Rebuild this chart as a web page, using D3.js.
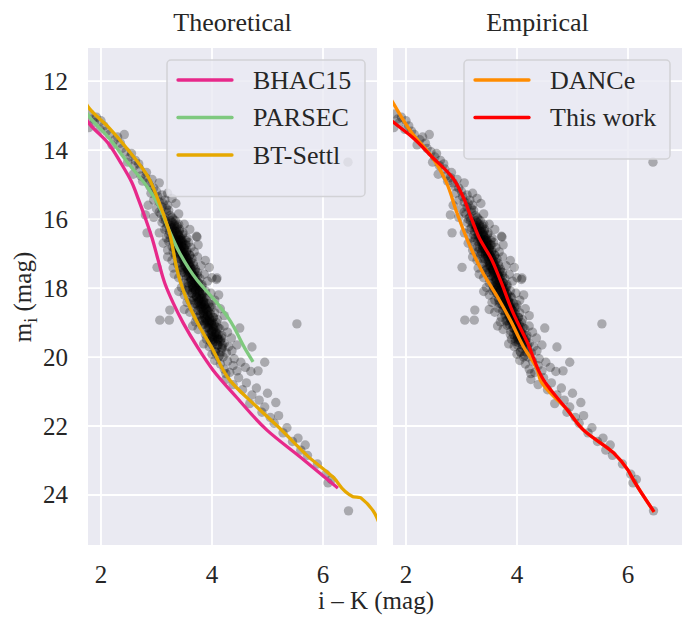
<!DOCTYPE html>
<html>
<head>
<meta charset="utf-8">
<script src="https://cdn.jsdelivr.net/npm/d3@7"></script>
<style>
  body { margin: 0; background: #fff; }
</style>
</head>
<body>
<div id="chart"></div>
<script>
const width = 686;
const height = 617;

// axis ticks
const xTicks = [2, 4, 6];
const yTicks = [12, 14, 16, 18, 20, 22, 24];

// isochrones, [i-K, m_i]
const bhac15 = [[1.70,13.0],[1.77,13.19],[2.13,13.80],[2.36,14.38],[2.55,14.92],[2.68,15.45],[2.80,15.98],[2.92,16.55],[3.03,17.19],[3.15,17.86],[3.30,18.43],[3.48,19.01],[3.75,19.74],[4.02,20.38],[4.45,21.18],[4.99,22.12],[5.59,22.90],[6.27,23.80]];
const parsec = [[1.70,12.8],[1.77,12.99],[2.13,13.62],[2.49,14.38],[2.85,15.10],[3.08,15.74],[3.21,16.26],[3.42,16.99],[3.73,17.77],[4.09,18.43],[4.32,18.93],[4.59,19.74],[4.74,20.14]];
const btSettl = [[1.70,12.55],[1.77,12.75],[2.13,13.33],[2.49,14.0],[2.85,14.78],[3.03,15.45],[3.21,16.26],[3.42,17.77],[3.60,18.55],[3.78,19.13],[4.0,19.74],[4.32,20.67],[4.81,21.45],[5.23,22.08],[5.73,22.88],[6.18,23.48],[6.54,24.05],[6.68,24.08],[7.05,25.0]];
const dance = [[1.70,12.45],[1.77,12.64],[2.11,13.51],[2.47,14.20],[2.71,14.87],[2.92,15.83],[3.16,16.81],[3.39,17.57],[3.65,18.26],[3.88,18.93],[4.12,19.71],[4.37,20.38],[4.42,20.67],[4.91,21.54],[5.20,22.12],[5.74,22.78],[6.0,23.28],[6.10,23.57],[6.47,24.49]];
const thisWork = [[1.70,13.1],[1.77,13.19],[2.11,13.62],[2.47,14.20],[2.83,14.78],[3.03,15.36],[3.19,16.03],[3.34,16.61],[3.52,17.10],[3.70,17.77],[3.93,18.72],[4.19,19.59],[4.48,20.67],[4.91,21.54],[5.20,22.12],[5.74,22.78],[6.0,23.28],[6.10,23.57],[6.47,24.49]];

// cluster members, [i-K, m_i]
const stars = [
  [1.80,12.95],[1.85,13.10],[1.92,13.05],[1.78,13.35],[1.98,13.40],[2.05,13.30],[2.15,13.55],[2.30,13.62],[2.42,13.55],[2.20,13.85],
  [2.38,13.95],[2.55,14.10],[2.48,14.35],[2.62,14.30],[2.70,14.55],[2.58,14.70],[2.82,14.65],[2.75,14.90],[2.92,14.85],[2.88,15.05],[3.05,14.95],
  [1.88,13.20],[2.00,13.15],[2.10,13.45],[2.25,13.70],[2.35,13.80],[2.45,14.05],[2.52,14.20],[2.60,14.45],[2.68,14.40],[2.72,14.75],
  [2.80,14.80],[2.85,14.95],[2.95,15.10],[3.02,15.35],[3.12,15.55],[3.18,15.70],[3.22,15.75],[3.28,15.95],[3.15,15.95],[3.05,15.80],
  [2.90,15.25],[3.00,15.20],[3.10,15.30],[3.20,15.25],[2.95,15.45],[3.05,15.50],[3.15,15.45],[3.28,15.40],[2.85,15.60],[3.00,15.70],
  [3.10,15.65],[3.20,15.60],[3.35,15.55],[3.08,15.85],[3.18,15.80],[3.25,15.90],[3.40,15.85],[2.95,15.95],[3.12,16.00],[3.30,16.00],
  [3.10,16.10],[3.20,16.15],[3.28,16.10],[3.38,16.20],[3.50,16.15],[3.15,16.30],[3.25,16.25],[3.33,16.35],[3.42,16.30],[3.60,16.30],
  [3.05,16.40],[3.22,16.45],[3.30,16.50],[3.40,16.45],[3.48,16.40],[3.72,16.50],[3.18,16.55],[3.36,16.60],[3.45,16.58],[3.55,16.55],
  [3.12,16.70],[3.22,16.65],[3.28,16.80],[3.32,16.72],[3.36,16.68],[3.38,16.85],[3.40,16.75],[3.42,16.90],[3.44,16.62],[3.45,16.80],
  [3.47,16.95],[3.48,16.70],[3.50,16.85],[3.52,16.75],[3.55,16.92],[3.58,16.68],[3.62,16.82],[3.68,16.95],[3.75,16.75],[3.30,16.95],
  [3.35,17.00],[3.40,16.60],[3.46,17.00],[3.53,16.62],[3.20,16.90],
  [3.20,17.10],[3.28,17.20],[3.34,17.05],[3.38,17.30],[3.42,17.15],[3.45,17.40],[3.48,17.08],[3.50,17.25],[3.52,17.35],[3.54,17.12],
  [3.56,17.45],[3.57,17.20],[3.59,17.30],[3.60,17.05],[3.62,17.40],[3.64,17.15],[3.66,17.28],[3.70,17.45],[3.74,17.10],[3.80,17.35],
  [3.88,17.20],[3.44,17.48],[3.50,17.02],[3.58,17.50],[3.30,17.42],[3.95,17.40],
  [3.32,17.60],[3.40,17.70],[3.46,17.55],[3.50,17.85],[3.54,17.65],[3.57,17.95],[3.60,17.58],[3.62,17.75],[3.64,17.90],[3.66,17.62],
  [3.68,17.80],[3.70,17.68],[3.72,17.95],[3.74,17.55],[3.76,17.85],[3.78,17.72],[3.82,17.90],[3.86,17.60],[3.92,17.80],[4.00,17.70],
  [4.08,17.75],[3.58,18.00],[3.65,18.00],[3.70,17.52],[3.45,17.98],[3.80,18.00],
  [3.40,18.10],[3.50,18.20],[3.56,18.08],[3.60,18.35],[3.64,18.15],[3.68,18.45],[3.70,18.05],[3.72,18.25],[3.75,18.38],[3.77,18.12],
  [3.79,18.30],[3.81,18.48],[3.83,18.18],[3.85,18.40],[3.88,18.08],[3.90,18.28],[3.94,18.45],[3.98,18.15],[4.05,18.35],[4.12,18.20],
  [3.66,18.28],[3.74,18.50],[3.86,18.50],[3.55,18.42],[4.00,18.48],
  [3.50,18.62],[3.60,18.70],[3.66,18.58],[3.72,18.85],[3.76,18.65],[3.80,18.95],[3.83,18.55],[3.85,18.75],[3.88,18.90],[3.90,18.62],
  [3.92,18.80],[3.94,18.68],[3.96,18.95],[3.99,18.58],[4.02,18.85],[4.05,18.72],[4.10,18.92],[4.15,18.60],[4.22,18.80],[3.78,18.78],
  [3.86,19.00],[3.95,19.00],[3.70,18.98],[4.08,19.00],
  [3.65,19.10],[3.75,19.20],[3.82,19.08],[3.88,19.35],[3.92,19.15],[3.96,19.45],[3.99,19.05],[4.01,19.25],[4.04,19.40],[4.06,19.12],
  [4.08,19.30],[4.11,19.48],[4.14,19.18],[4.18,19.38],[4.22,19.10],[4.28,19.28],[4.35,19.45],[3.90,19.48],[4.00,19.50],[4.15,19.50],
  [3.85,19.62],[3.95,19.70],[4.02,19.58],[4.06,19.85],[4.10,19.65],[4.14,19.95],[4.18,19.72],[4.22,19.60],[4.26,19.88],[4.30,19.70],
  [4.36,19.82],[4.45,19.65],[4.12,20.00],[4.20,20.00],[4.00,19.92],
  [4.05,20.10],[4.15,20.20],[4.22,20.35],[4.28,20.12],[4.32,20.45],[4.38,20.25],[4.45,20.40],[4.52,20.15],[4.60,20.30],[4.25,20.48],
  [4.40,20.05],[4.70,20.42],
  [4.25,20.65],[4.38,20.80],[4.48,20.60],[4.55,20.95],[4.62,20.75],[4.72,21.10],[4.80,20.90],[4.68,21.35],[4.85,21.25],[4.95,21.45],
  [5.00,21.05],[5.15,21.32],
  [4.90,21.60],[5.05,21.75],[5.12,21.92],[5.20,21.70],[5.28,22.20],[5.35,22.05],[5.45,22.45],[5.55,22.35],[5.68,22.55],[5.72,22.85],
  [5.60,22.70],[5.90,23.10],[6.05,23.40],[6.09,23.65],[6.15,23.55],
  [6.45,14.35],[5.53,19.04],[6.46,24.46],[3.06,18.93],[3.23,18.93],[3.24,18.64],[3.01,17.40],[2.83,16.40],[2.80,15.88],[3.73,16.52],
  [4.09,17.71],[4.50,19.16],[4.72,19.71],[4.83,20.40],[4.95,20.15]
];

// densest part of the sequence
const coreStars = [
  [3.16,16.05],[3.26,16.05],[3.34,16.05],[3.23,16.15],[3.32,16.15],[3.40,16.15],[3.18,16.25],[3.28,16.25],[3.36,16.25],
  [3.23,16.35],[3.33,16.35],[3.41,16.35],[3.30,16.45],[3.39,16.45],[3.47,16.45],[3.25,16.55],[3.35,16.55],[3.43,16.55],
  [3.29,16.65],[3.39,16.65],[3.47,16.65],[3.37,16.75],[3.46,16.75],[3.54,16.75],[3.32,16.85],[3.42,16.85],[3.50,16.85],
  [3.36,16.95],[3.46,16.95],[3.54,16.95],[3.43,17.05],[3.52,17.05],[3.60,17.05],[3.39,17.15],[3.49,17.15],[3.57,17.15],
  [3.43,17.25],[3.53,17.25],[3.61,17.25],[3.50,17.35],[3.59,17.35],[3.67,17.35],[3.46,17.45],[3.56,17.45],[3.64,17.45],
  [3.50,17.55],[3.60,17.55],[3.68,17.55],[3.57,17.65],[3.66,17.65],[3.74,17.65],[3.53,17.75],[3.63,17.75],[3.71,17.75],
  [3.57,17.85],[3.67,17.85],[3.75,17.85],[3.65,17.95],[3.74,17.95],[3.82,17.95],[3.60,18.05],[3.70,18.05],[3.78,18.05],
  [3.64,18.15],[3.74,18.15],[3.82,18.15],[3.72,18.25],[3.81,18.25],[3.89,18.25],[3.67,18.35],[3.77,18.35],[3.85,18.35],
  [3.71,18.45],[3.81,18.45],[3.89,18.45],[3.79,18.55],[3.88,18.55],[3.96,18.55],[3.74,18.65],[3.84,18.65],[3.92,18.65],
  [3.79,18.75],[3.89,18.75],[3.97,18.75],[3.86,18.85],[3.95,18.85],[4.03,18.85],[3.82,18.95],[3.92,18.95],[4.00,18.95],
  [3.86,19.05],[3.96,19.05],[4.04,19.05],[3.94,19.15],[4.03,19.15],[4.11,19.15],[3.89,19.25],[3.99,19.25],[4.07,19.25],
  [3.94,19.35],[4.04,19.35],[4.12,19.35],[4.01,19.45],[4.10,19.45],[4.18,19.45],[3.97,19.55],[4.07,19.55],[4.15,19.55],
  [4.01,19.65],[4.11,19.65],[4.19,19.65],[4.09,19.75],[4.18,19.75],[4.06,19.85],[4.16,19.85]
];

// ridge of the sequence, where the stars pile up
const ridgeStars = [
  [3.26,16.2],[3.33,16.2],[3.28,16.3],[3.35,16.3],[3.30,16.4],[3.37,16.4],[3.33,16.5],[3.40,16.5],[3.34,16.6],[3.42,16.6],
  [3.38,16.7],[3.45,16.7],[3.39,16.8],[3.46,16.8],[3.42,16.9],[3.49,16.9],[3.43,17.0],[3.51,17.0],[3.47,17.1],[3.54,17.1],
  [3.48,17.2],[3.55,17.2],[3.51,17.3],[3.58,17.3],[3.53,17.4],[3.61,17.4],[3.56,17.5],[3.63,17.5],[3.57,17.6],[3.65,17.6],
  [3.61,17.7],[3.68,17.7],[3.62,17.8],[3.69,17.8],[3.65,17.9],[3.72,17.9],[3.67,18.0],[3.75,18.0],[3.70,18.1],[3.77,18.1],
  [3.71,18.2],[3.78,18.2],[3.75,18.3],[3.82,18.3],[3.76,18.4],[3.84,18.4],[3.79,18.5],[3.86,18.5],[3.81,18.6],[3.89,18.6],
  [3.84,18.7],[3.91,18.7],[3.86,18.8],[3.93,18.8],[3.89,18.9],[3.96,18.9],[3.91,19.0],[3.99,19.0],[3.94,19.1],[4.01,19.1],
  [3.96,19.2],[4.03,19.2],[3.99,19.3],[4.06,19.3],[4.01,19.4],[4.09,19.4],[4.04,19.5],[4.11,19.5]
];

const panelW = 289;
const plotTop = 48, plotBottom = 545;
const serif = "'Liberation Serif', 'DejaVu Serif', serif";

const x = d3.scaleLinear().domain([1.766, 6.973]).range([0, panelW]);
const y = d3.scaleLinear().domain([11.04, 25.45]).range([plotTop, plotBottom]);

const panels = [
  { title: "Theoretical", left: 88, yLabels: true,
    series: [
      { name: "BHAC15", data: bhac15, color: "#e7298a" },
      { name: "PARSEC", data: parsec, color: "#7fc97f" },
      { name: "BT-Settl", data: btSettl, color: "#e6a800" }
    ],
    legend: { x: 167, w: 198 } },
  { title: "Empirical", left: 393, yLabels: false,
    series: [
      { name: "DANCe", data: dance, color: "#ff8c00" },
      { name: "This work", data: thisWork, color: "#ff0000" }
    ],
    legend: { x: 464, w: 206 } }
];

const svg = d3.select("#chart").append("svg")
  .attr("width", width)
  .attr("height", height)
  .attr("font-family", serif)
  .style("font-family", serif);

// magnitudes only grow along each track, so monotoneY keeps it from overshooting
const line = d3.line()
  .x(d => x(d[0]))
  .y(d => y(d[1]))
  .curve(d3.curveMonotoneY);

const allStars = stars.concat(coreStars, ridgeStars);

panels.forEach((p, i) => {
  const g = svg.append("g").attr("transform", `translate(${p.left},0)`);

  svg.append("clipPath").attr("id", "clip" + i)
    .append("rect")
    .attr("x", 0).attr("y", plotTop)
    .attr("width", panelW).attr("height", plotBottom - plotTop);

  g.append("rect")
    .attr("x", 0).attr("y", plotTop)
    .attr("width", panelW).attr("height", plotBottom - plotTop)
    .attr("fill", "#eaeaf2");

  // grid
  g.selectAll(".gx").data(xTicks).join("line")
    .attr("class", "gx")
    .attr("x1", d => x(d)).attr("x2", d => x(d))
    .attr("y1", plotTop).attr("y2", plotBottom)
    .attr("stroke", "#fff").attr("stroke-width", 1.8);
  g.selectAll(".gy").data(yTicks).join("line")
    .attr("class", "gy")
    .attr("x1", 0).attr("x2", panelW)
    .attr("y1", d => y(d)).attr("y2", d => y(d))
    .attr("stroke", "#fff").attr("stroke-width", 1.8);

  const plot = g.append("g").attr("clip-path", `url(#clip${i})`);

  plot.selectAll("circle").data(allStars).join("circle")
    .attr("cx", d => x(d[0]))
    .attr("cy", d => y(d[1]))
    .attr("r", 4.7)
    .attr("fill", "#000")
    .attr("fill-opacity", 0.28);

  plot.selectAll("path").data(p.series).join("path")
    .attr("d", d => line(d.data))
    .attr("fill", "none")
    .attr("stroke", d => d.color)
    .attr("stroke-width", 3.3)
    .attr("stroke-linejoin", "round");

  // tick labels
  g.selectAll(".xt").data(xTicks).join("text")
    .attr("class", "xt")
    .attr("x", d => x(d)).attr("y", 583)
    .attr("text-anchor", "middle")
    .attr("fill", "#262626")
    .style("font-size", "25px")
    .text(d => d);
  if (p.yLabels) {
    g.selectAll(".yt").data(yTicks).join("text")
      .attr("class", "yt")
      .attr("x", -20).attr("y", d => y(d))
      .attr("dy", "0.34em")
      .attr("text-anchor", "end")
      .attr("fill", "#262626")
      .style("font-size", "25px")
      .text(d => d);
  }

  g.append("text")
    .attr("x", panelW / 2).attr("y", 31)
    .attr("text-anchor", "middle")
    .attr("fill", "#262626")
    .style("font-size", "26px")
    .text(p.title);

  // legend
  const lg = svg.append("g");
  const lh = 24 + p.series.length * 37.5;
  lg.append("rect")
    .attr("x", p.legend.x).attr("y", 60)
    .attr("width", p.legend.w).attr("height", lh)
    .attr("rx", 4)
    .attr("fill", "#eaeaf2").attr("fill-opacity", 0.8)
    .attr("stroke", "#d2d2d6").attr("stroke-width", 1.5);
  p.series.forEach((s, k) => {
    const ly = 80 + k * 37.5;
    lg.append("line")
      .attr("x1", p.legend.x + 11).attr("x2", p.legend.x + 65)
      .attr("y1", ly).attr("y2", ly)
      .attr("stroke", s.color).attr("stroke-width", 3.3)
      .attr("stroke-linecap", "round");
    lg.append("text")
      .attr("x", p.legend.x + 86).attr("y", ly)
      .attr("dy", "0.34em")
      .attr("fill", "#262626")
      .style("font-size", "26px")
      .text(s.name);
  });
});

// axis labels
svg.append("text")
  .attr("x", 376).attr("y", 609)
  .attr("text-anchor", "middle")
  .attr("fill", "#262626")
  .style("font-size", "25px")
  .text("i \u2013 K (mag)");

const yl = svg.append("text")
  .attr("transform", "translate(31,297) rotate(-90)")
  .attr("text-anchor", "middle")
  .attr("fill", "#262626")
  .style("font-size", "25px");
yl.append("tspan").text("m");
yl.append("tspan").attr("dy", 6).style("font-size", "18px").text("i");
yl.append("tspan").attr("dy", -6).text(" (mag)");
</script>
</body>
</html>
